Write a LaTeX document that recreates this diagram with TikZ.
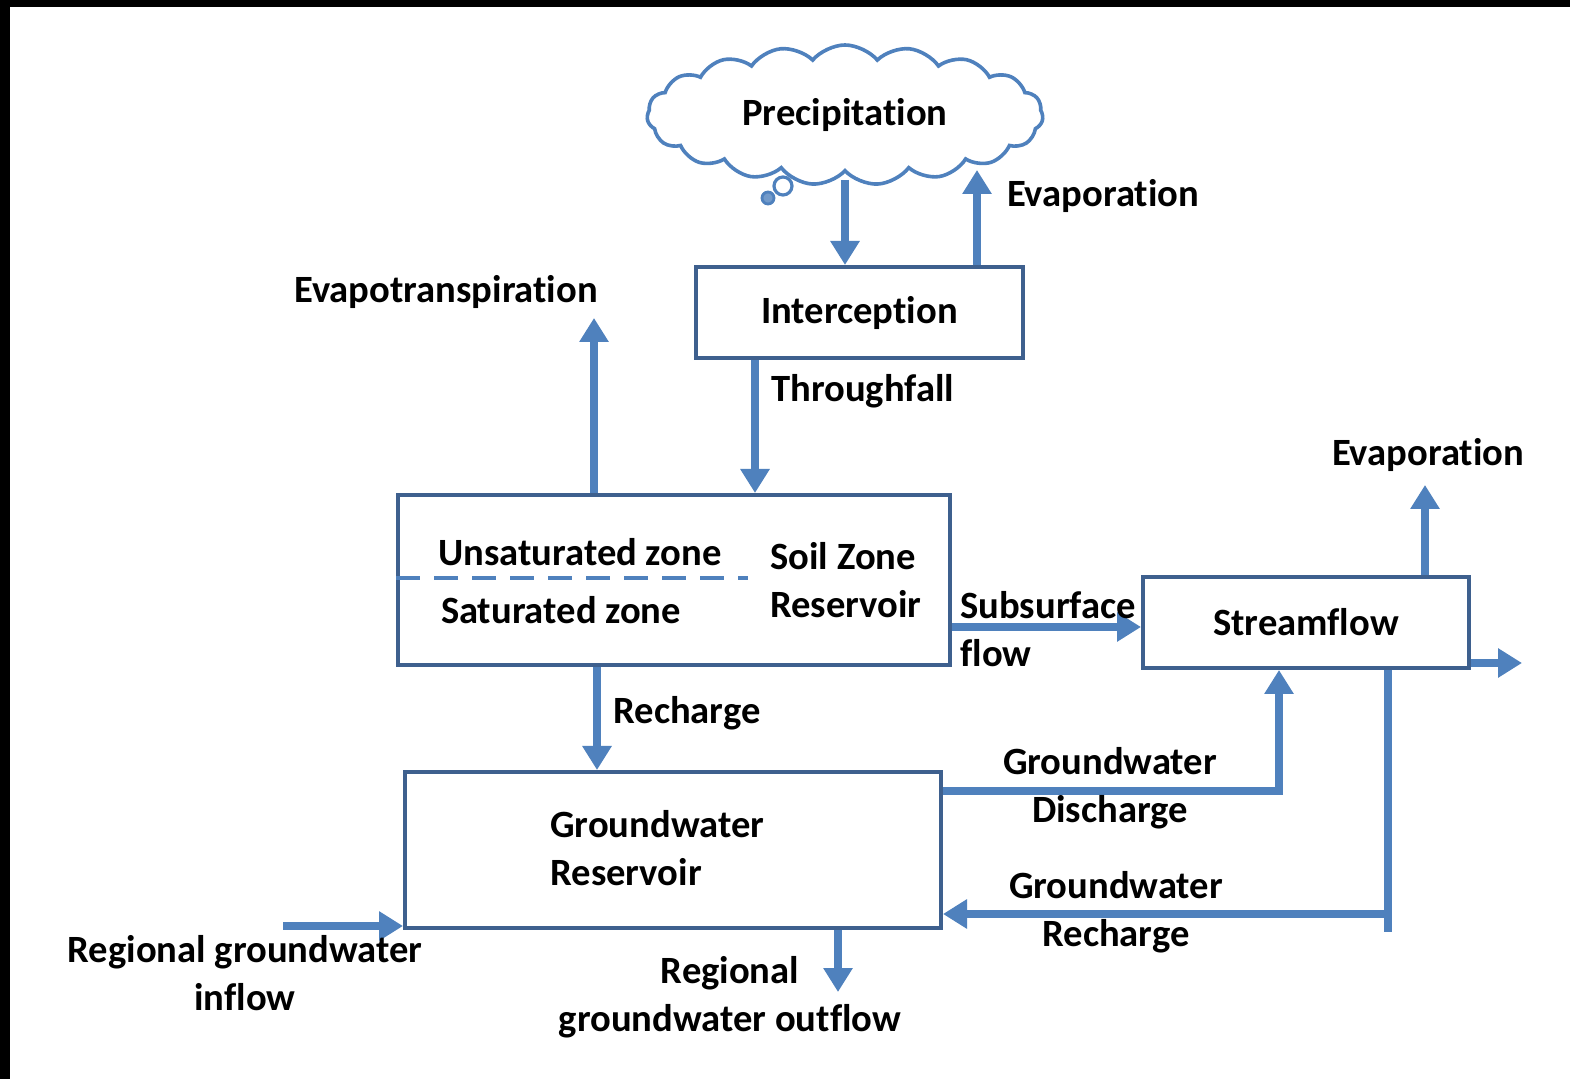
\documentclass[tikz,border=0pt]{standalone}
\usepackage{fontspec}
\setmainfont{Carlito}[Ligatures=NoCommon]
\usetikzlibrary{arrows.meta,shapes.symbols}
\definecolor{arrowblue}{RGB}{79,129,189}
\definecolor{boxblue}{RGB}{62,96,142}
\tikzset{
  lbl/.style={font=\fontsize{19.3}{24}\selectfont\bfseries, text=black, inner sep=0pt, align=center},
  box/.style={draw=boxblue, line width=2pt, rectangle, fill=white, inner sep=0pt},
  flow/.style={draw=arrowblue, line width=3.6pt, -{Triangle[width=14pt,length=12pt]}},
  flowline/.style={draw=arrowblue, line width=3.6pt},
}
\begin{document}
\begin{tikzpicture}[x=0.5pt,y=-0.5pt]
\useasboundingbox (0,0) rectangle (1570,1079);
\fill[black] (0,0) rectangle (1570,1079);
\fill[white] (10,7) rectangle (1570,1079);

% cloud
\node[cloud, draw=arrowblue, line width=1.8pt, cloud puffs=19, cloud puff arc=100, aspect=2.8,
      minimum width=198pt, minimum height=70pt, inner sep=0pt, lbl] (cloud) at (845,115) {Precipitation};
\draw[arrowblue, line width=1.6pt, fill=white] (783,186) circle[radius=9];
\draw[arrowblue, line width=1.4pt, fill=arrowblue!80] (768,198) circle[radius=6];

% boxes
\node[box, lbl, minimum width=163.5pt, minimum height=45.5pt] (inter) at (859.5,312.5) {Interception};
\node[box, minimum width=276pt, minimum height=85pt] (soil) at (674,580) {};
\node[box, lbl, minimum width=163pt, minimum height=45.5pt] (stream) at (1306,622.5) {Streamflow};
\node[box, minimum width=268pt, minimum height=78pt] (gw) at (673,850) {};

% soil box contents
\node[lbl] (unsat) at (580,552) {Unsaturated zone};
\node[lbl] (sat) at (561,610) {Saturated zone};
\node[lbl, align=left] (soilz) at (846,580) {Soil Zone\\Reservoir};
\coordinate (dl) at (748,578);
\draw[arrowblue, line width=2pt, dash pattern=on 12pt off 7pt] (dl -| soil.west) -- (dl);

% groundwater box contents
\node[lbl, align=left, anchor=west] (gwtext) at (550,848) {Groundwater\\Reservoir};

% coordinates for free ends
\coordinate (c1) at (845,180);
\coordinate (ev1) at (977,170);
\coordinate (tf) at (755,0);
\coordinate (et) at (594,318);
\coordinate (ss) at (0,627);
\coordinate (sev) at (1425,485);
\coordinate (sout) at (1522,663);
\coordinate (rc) at (597,0);
\coordinate (gd) at (1279,791);
\coordinate (gr1) at (1388,932);
\coordinate (gr2) at (1388,914);
\coordinate (ri) at (283,926);
\coordinate (ro) at (838,992);

% connectors
\draw[flow] (c1) -- (c1 |- inter.north);
\draw[flow] (inter.north -| ev1) -- (ev1);
\draw[flow] (tf |- inter.south) -- (tf |- soil.north);
\draw[flow] (et |- soil.north) -- (et);
\draw[flow] (ss -| soil.east) -- (ss -| stream.west);
\draw[flow] (sev |- stream.north) -- (sev);
\draw[flow] (sout -| stream.east) -- (sout);
\draw[flow] (rc |- soil.south) -- (rc |- gw.north);
\draw[flow] (gd -| gw.east) -- (gd) -- (gd |- stream.south);
\draw[flowline] (gr1 |- stream.south) -- (gr1);
\draw[flow] (gr2) -- (gr2 -| gw.east);
\draw[flow] (ri) -- (ri -| gw.west);
\draw[flow] (ro |- gw.south) -- (ro);

% labels
\node[lbl] (levap1) at (1103,196) {Evaporation};
\node[lbl] (levapt) at (446,292) {Evapotranspiration};
\node[lbl, anchor=west] (lthru) at (771,391) {Throughfall};
\node[lbl, anchor=west, align=left] (lsub) at (960,629) {Subsurface\\flow};
\node[lbl] (levap2) at (1428,455) {Evaporation};
\node[lbl, anchor=west] (lrech) at (613,713) {Recharge};
\node[lbl] (lgwd) at (1110,788) {Groundwater\\Discharge};
\node[lbl] (lgwr) at (1116,912) {Groundwater\\Recharge};
\node[lbl] (lrin) at (245,973) {Regional groundwater\\inflow};
\node[lbl] (lrout) at (730,997) {Regional\\groundwater outflow};
\end{tikzpicture}
\end{document}
